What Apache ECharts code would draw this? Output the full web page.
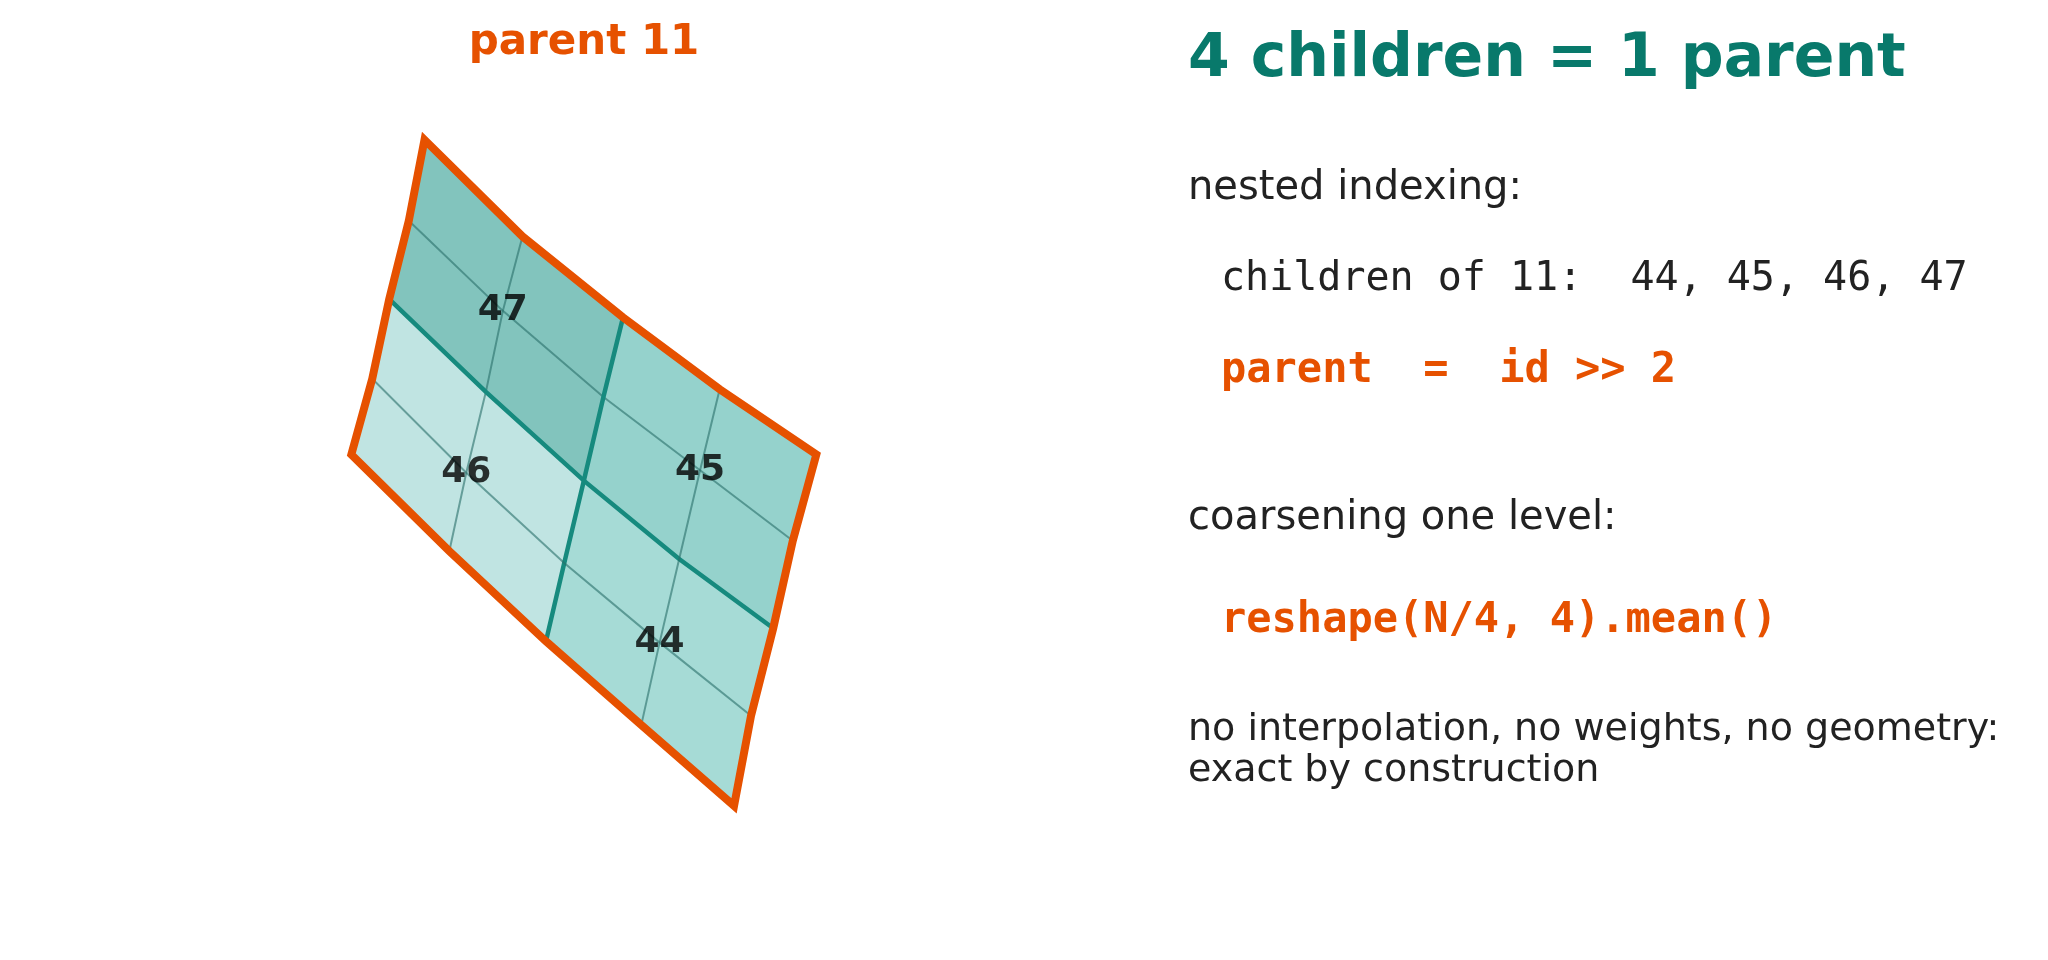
<!DOCTYPE html>
<html><head><meta charset="utf-8">
<script src="https://cdn.jsdelivr.net/npm/echarts@6/dist/echarts.min.js"></script>
<style>html,body{margin:0;padding:0;background:#fff}#c{width:2048px;height:960px}</style>
</head><body><div id="c"></div>
<script>
// grid nodes of the parent cell, rows b=0..4, cols a=0..4 (chart units, y down)
const nodeX = [
  [325, 400, 477, 551, 625],
  [313, 385, 462, 536, 607],
  [298, 372, 447, 520, 592],
  [285, 357, 432, 505, 575],
  [269, 344, 418, 491, 562]
];
const nodeY = [
  [107, 181, 243, 298, 348],
  [169, 238, 304, 360, 414],
  [229, 300, 368, 428, 481],
  [290, 362, 431, 492, 548],
  [348, 422, 491, 555, 617]
];
const childIds = [[47, 45], [46, 44]];
const childColors = [['#82c4bd', '#95d2cc'], ['#c0e4e2', '#a6dbd6']];
const parentLabel = 'parent 11';

const chart = echarts.init(document.getElementById('c'));
const P = (a, b) => [nodeX[b][a], nodeY[b][a]];

const cells = [];
for (let b = 0; b < 4; b++) for (let a = 0; a < 4; a++) {
  const ci = Math.floor(b / 2), cj = Math.floor(a / 2);
  cells.push({ pts: [P(a, b), P(a + 1, b), P(a + 1, b + 1), P(a, b + 1)], color: childColors[ci][cj] });
}
const lines = [];
for (let k = 1; k < 4; k++) {
  const thick = k === 2;
  const row = [], col = [];
  for (let t = 0; t <= 4; t++) { row.push(P(t, k)); col.push(P(k, t)); }
  lines.push({ pts: row, thick }, { pts: col, thick });
}
const border = [];
for (let t = 0; t <= 4; t++) border.push(P(t, 0));
for (let t = 1; t <= 4; t++) border.push(P(4, t));
for (let t = 3; t >= 0; t--) border.push(P(t, 4));
for (let t = 3; t >= 1; t--) border.push(P(0, t));
const labels = [];
for (let i = 0; i < 2; i++) for (let j = 0; j < 2; j++) {
  const p = P(2 * j + 1, 2 * i + 1);
  labels.push([p[0], p[1], childIds[i][j]]);
}

function polyItem(pts, api, style, closed) {
  const c = pts.map(p => api.coord(p));
  return closed ? { type: 'polygon', shape: { points: c }, style }
                : { type: 'polyline', shape: { points: c }, style };
}

const tx = (s, x, y, size, color, bold, mono) => ({
  type: 'text', left: x, top: y,
  style: { text: s, fontSize: size, fill: color, fontWeight: bold ? 'bold' : 'normal',
    fontFamily: mono ? 'DejaVu Sans Mono' : 'DejaVu Sans' }
});

chart.setOption({
  animation: false,
  grid: { left: 0, right: 0, top: 0, bottom: 0 },
  xAxis: { type: 'value', min: 0, max: 1568, show: false },
  yAxis: { type: 'value', min: 0, max: 735, inverse: true, show: false },
  series: [
    { type: 'custom', data: cells.map((c, i) => [i]), renderItem: (p, api) =>
        polyItem(cells[p.dataIndex].pts, api, { fill: cells[p.dataIndex].color, stroke: cells[p.dataIndex].color, lineWidth: 1 }, true) },
    { type: 'custom', data: lines.map((l, i) => [i]), renderItem: (p, api) => {
        const l = lines[p.dataIndex];
        return polyItem(l.pts, api, { fill: 'none', stroke: l.thick ? '#168a7e' : 'rgba(40,110,105,0.6)', lineWidth: l.thick ? 4.5 : 2 }, false);
      } },
    { type: 'custom', data: [[0]], renderItem: (p, api) =>
        polyItem(border, api, { fill: 'none', stroke: '#e65100', lineWidth: 8, lineJoin: 'miter' }, true) },
    { type: 'scatter', data: labels, symbolSize: 0, z: 10,
      label: { show: true, position: 'inside', formatter: p => p.value[2], color: '#000000', textBorderWidth: 0, fontSize: 36, fontWeight: 'bold', fontFamily: 'DejaVu Sans' } }
  ],
  graphic: [
    { type: 'text', x: 584, y: 43, style: { text: parentLabel, fontSize: 42, fill: '#e65100', fontWeight: 'bold', fontFamily: 'DejaVu Sans', align: 'center', verticalAlign: 'middle' } },
    tx('4 children = 1 parent', 1188, 30, 60, '#08796b', true),
    tx('nested indexing:', 1188, 169, 40, '#222'),
    tx('children of 11:  44, 45, 46, 47', 1221, 260, 40, '#222', false, true),
    tx('parent  =  id >> 2', 1221, 350, 42, '#e65100', true, true),
    tx('coarsening one level:', 1188, 499, 40, '#222'),
    tx('reshape(N/4, 4).mean()', 1221, 600, 42, '#e65100', true, true),
    tx('no interpolation, no weights, no geometry:', 1188, 711, 38, '#222'),
    tx('exact by construction', 1188, 752, 38, '#222')
  ]
});
</script></body></html>
